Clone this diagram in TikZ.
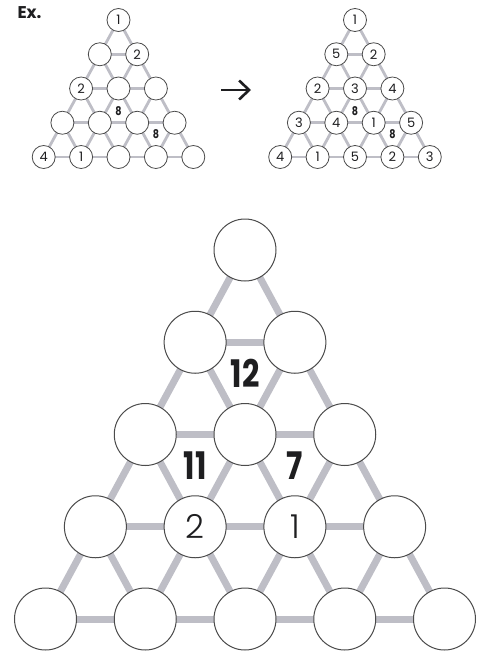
\documentclass[tikz,border=0pt]{standalone}
\usepackage{fontspec}
\setmainfont{Poppins}
\newfontfamily\lightfont{Poppins Light}
\newfontfamily\cluefont{Poppins}[FakeStretch=0.8]
\usetikzlibrary{arrows.meta}
\pgfdeclarelayer{background}
\pgfsetlayers{background,main}
\definecolor{linkgray}{RGB}{190,190,198}
\definecolor{ringgray}{RGB}{75,75,75}
\definecolor{ink}{RGB}{30,30,32}

% gray bars between neighbouring circles of a five-row triangle
\newcommand\gridlinks[2]{%
  \begin{pgfonlayer}{background}
    \foreach \r in {0,...,3}
      \foreach \i in {0,...,\r} {
        \pgfmathtruncatemacro\rr{\r+1}
        \pgfmathtruncatemacro\ii{\i+1}
        \draw[#2] (#1\r\i.center) -- (#1\rr\i.center);
        \draw[#2] (#1\r\i.center) -- (#1\rr\ii.center);
      }
    \foreach \r in {1,...,4}
      \foreach \i in {1,...,\r} {
        \pgfmathtruncatemacro\hh{\i-1}
        \draw[#2] (#1\r\hh.center) -- (#1\r\i.center);
      }
  \end{pgfonlayer}}

\begin{document}
\begin{tikzpicture}[
    x=1pt, y=-1pt,
    cell/.style={draw=ringgray, fill=white, circle, line width=1pt, minimum size=62pt,
      inner sep=0pt, text=ink, font=\lightfont\fontsize{33}{33}\selectfont},
    excell/.style={draw=ringgray, fill=white, circle, line width=0.8pt, minimum size=23pt,
      inner sep=0pt, text=ink, font=\fontsize{13}{13}\selectfont},
    link/.style={draw=linkgray, line width=7pt},
    exlink/.style={draw=linkgray, line width=2.8pt},
    clue/.style={text=ink, font=\cluefont\bfseries\fontsize{38}{38}\selectfont},
    exclue/.style={text=ink, font=\cluefont\bfseries\fontsize{12}{12}\selectfont},
]
\useasboundingbox (0,0) rectangle (481,654);

\node[anchor=west, text=ink, font=\bfseries\fontsize{17}{17}\selectfont] (ex) at (14,13) {Ex.};

% example puzzle
\foreach \vals [count=\r from 0] in {{1},{{},2},{2,{},{}},{{},{},{},{}},{4,1,{},{},{}}}
  \foreach \v [count=\i from 0] in \vals
    \node[excell] (e\r\i) at ({118.5+(\i-\r/2)*37.4},{20+\r*34.25}) {\v};
\gridlinks{e}{exlink}
\node[exclue] (e8a) at (barycentric cs:e21=1,e31=1,e32=1) {8};
\node[exclue] (e8b) at (barycentric cs:e32=1,e33=1,e43=1) {8};

% arrow
\coordinate (arr-a) at (221,90);
\coordinate (arr-b) at (251,90);
\draw[-{Straight Barb[length=10pt,width=19pt]}, line width=2.6pt, ink] (arr-a) -- (arr-b);

% solved example
\foreach \vals [count=\r from 0] in {{1},{5,2},{2,3,4},{3,4,1,5},{4,1,5,2,3}}
  \foreach \v [count=\i from 0] in \vals
    \node[excell] (s\r\i) at ({355+(\i-\r/2)*37.4},{20+\r*34.25}) {\v};
\gridlinks{s}{exlink}
\node[exclue] (s8a) at (barycentric cs:s21=1,s31=1,s32=1) {8};
\node[exclue] (s8b) at (barycentric cs:s32=1,s33=1,s43=1) {8};

% main puzzle
\foreach \vals [count=\r from 0] in {{{}},{{},{}},{{},{},{}},{{},2,1,{}},{{},{},{},{},{}}}
  \foreach \v [count=\i from 0] in \vals
    \node[cell] (b\r\i) at ({245+(\i-\r/2)*99.75},{250+\r*92.25}) {\v};
\gridlinks{b}{link}
\node[clue] (c12) at (barycentric cs:b10=1,b11=1,b21=1) {12};
\node[clue] (c11) at (barycentric cs:b20=1,b21=1,b31=1) {11};
\node[clue] (c7) at (barycentric cs:b21=1,b22=1,b32=1) {7};

\end{tikzpicture}
\end{document}
